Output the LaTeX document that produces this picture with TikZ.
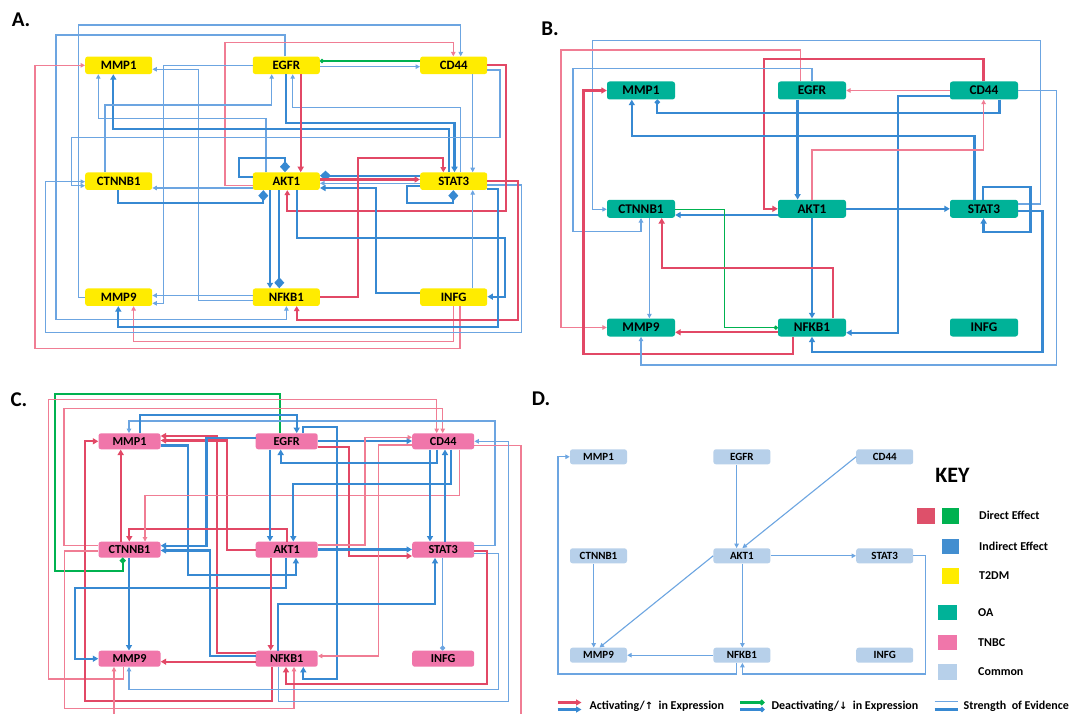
\documentclass[tikz,border=0pt]{standalone}
\usepackage{fontspec}
\setmainfont{Carlito}
\newfontfamily\dvs{DejaVu Sans}
\usetikzlibrary{arrows.meta}
\definecolor{yel}{RGB}{255,236,0}
\definecolor{teal2}{RGB}{0,178,152}
\definecolor{pink2}{RGB}{240,118,170}
\definecolor{comm}{RGB}{183,208,234}
\definecolor{redK}{RGB}{226,72,102}
\definecolor{redT}{RGB}{240,125,148}
\definecolor{bluK}{RGB}{55,137,210}
\definecolor{bluT}{RGB}{108,165,225}
\definecolor{grn}{RGB}{0,178,80}
\definecolor{keyred}{RGB}{222,80,106}
\definecolor{keyblue}{RGB}{66,142,208}
\tikzset{
 box/.style={rectangle, rounded corners=2.5pt, inner sep=0pt, text=black},
 nA/.style={box, fill=yel, minimum width=67pt, minimum height=17.5pt, font=\fontsize{12.8}{14}\selectfont\bfseries},
 nB/.style={box, fill=teal2, minimum width=68pt, minimum height=18pt, font=\fontsize{13.3}{14}\selectfont\bfseries},
 nC/.style={box, fill=pink2, minimum width=62pt, minimum height=16pt, font=\fontsize{12.2}{14}\selectfont\bfseries},
 nD/.style={box, fill=comm, minimum width=57pt, minimum height=15pt, font=\fontsize{11}{12}\selectfont\bfseries},
 bt/.style={draw=bluT, line width=1.1pt, -{Triangle[length=4.5pt,width=4.5pt]}},
 bk/.style={draw=bluK, line width=2.3pt, -{Triangle[length=5.5pt,width=6pt]}},
 rt/.style={draw=redT, line width=1.1pt, -{Triangle[length=4.5pt,width=4.5pt]}},
 rm/.style={draw=redK, line width=1.7pt, -{Triangle[length=5pt,width=5.5pt]}},
 rk/.style={draw=redK, line width=2.3pt, -{Triangle[length=5.5pt,width=6pt]}},
 gt/.style={draw=grn, line width=1.3pt, -{Circle[length=4pt]}},
 gk/.style={draw=grn, line width=2.3pt, -{Circle[length=5.5pt]}},
 dia/.style={-{Diamond[length=11pt,width=10pt]}},
 dot/.style={-{Circle[length=5pt]}},
 lab/.style={font=\fontsize{21}{24}\selectfont\bfseries, inner sep=0pt},
 keytxt/.style={font=\fontsize{12}{14}\selectfont\bfseries, anchor=west, inner sep=0pt},
}
\begin{document}
\begin{tikzpicture}[x=1pt,y=-1pt]
\useasboundingbox (0,0) rectangle (1073,714);
\fill[white] (0,0) rectangle (1073,714);

% ================= PANEL A =================
\node[lab] (lA) at (21,20) {A.};
\node[nA] (a1) at (118.7,65.3) {MMP1};
\node[nA] (a2) at (286.3,65.3) {EGFR};
\node[nA] (a3) at (453.7,65.3) {CD44};
\node[nA] (a4) at (118.7,181.2) {CTNNB1};
\node[nA] (a5) at (286.3,181.2) {AKT1};
\node[nA] (a6) at (453.7,181.2) {STAT3};
\node[nA] (a7) at (118.7,297.2) {MMP9};
\node[nA] (a8) at (286.3,297.2) {NFKB1};
\node[nA] (a9) at (453.7,297.2) {INFG};

\draw[bt] (a7.west) -| (78.3,25) -| (460.7,0 |- a3.north);
\draw[bt] (285,0 |- a2.north) -- (285,35) -| (56,319.3) -| (286.4,0 |- a8.south);
\draw[rt] (a5.west |- 0,185.2) -| (225,42.7) -| (453.3,0 |- a3.north);
\draw[rt] (460,0 |- a9.south) |- (35,348.3) |- (a1.west);
\draw[rt] (453.3,0 |- a9.south) |- (133.6,341.7) -- (133.6,0 |- a7.south);
\draw[gt] (a3.west |- 0,61) -- (a2.east |- 0,61);
\draw[bt] (a2.east |- 0,66.7) -- (a3.west |- 0,66.7);
\draw[bt] (a2.west) -| (163.3,303.3) -- (a7.east |- 0,303.3);
\draw[bt] (a8.west |- 0,300.5) -| (198.3,69.3) -- (a1.east |- 0,69.3);
\draw[bt] (a8.west |- 0,295.5) -- (a7.east |- 0,295.5);
\draw[bt] (266,0 |- a5.north) |- (98.3,118.3) -- (98.3,0 |- a1.south);
\draw[bk] (449,0 |- a6.north) |- (113.3,129.3) -- (113.3,0 |- a1.south);
\draw[bk] (286,0 |- a2.south) |- (454.5,123.3) -- (454.5,0 |- a6.north);
\draw[bt] (105,0 |- a4.north) |- (271.7,105) -- (271.7,0 |- a2.south);
\draw[bt] (a6.east |- 0,185) -| (521.5,332.7) -| (45.7,181.7) -- (a4.west |- 0,181.7);
\draw[bt] (a3.east |- 0,70) -| (500,137.3) -| (71.7,185.7) -- (a4.west |- 0,185.7);
\draw[bt] (a5.west |- 0,188) -- (a4.east |- 0,188);
\draw[bk,dia] (118.3,0 |- a4.south) |- (263.3,202.7) -- (263.3,0 |- a5.south);
\draw[bk,dia] (a5.west |- 0,177) -| (239.3,158.3) -| (285,0 |- a5.north);
\draw[bk] (270,0 |- a5.south) -- (270,0 |- a8.north);
\draw[bk,dia] (279.3,0 |- a5.south) -- (279.3,0 |- a8.north);
\draw[bt] (460.7,0 |- a6.north) |- (292.7,107.3) -- (292.7,0 |- a2.south);
\draw[bt] (472.7,0 |- a3.south) -- (472.7,0 |- a6.north);
\draw[rk] (300.7,0 |- a2.south) -- (300.7,0 |- a5.north);
\draw[rm] (a3.east |- 0,65) -| (506,210.7) -| (287.3,0 |- a5.south);
\draw[bk,dia] (a6.west |- 0,175.7) -- (a5.east |- 0,175.7);
\draw[rk] (a5.east |- 0,179.5) -- (a6.west |- 0,179.5);
\draw[bt] (a6.west |- 0,183.3) -- (a5.east |- 0,183.3);
\draw[bk] (a9.west |- 0,293.3) -| (376,188) -- (a5.east |- 0,188);
\draw[rm] (a8.east |- 0,296.7) -| (358.3,158.3) -| (443.3,0 |- a6.north);
\draw[bk,dia] (a6.west |- 0,186) -| (406.7,202.7) -| (453.3,0 |- a6.south);
\draw[rm] (a6.east |- 0,181) -| (518.3,320) -| (296.7,0 |- a8.south);
\draw[bk] (296.7,0 |- a5.south) |- (505,238.3) |- (a9.east |- 0,296.7);
\draw[bt] (472.7,0 |- a9.north) -- (472.7,0 |- a6.south);
\draw[bk] (a6.east |- 0,189) -| (498.3,326.7) -| (118.3,0 |- a7.south);

% ================= PANEL B =================
\node[lab] (lB) at (550,29) {B.};
\node[nB] (b1) at (641,90.5) {MMP1};
\node[nB] (b2) at (812,90.5) {EGFR};
\node[nB] (b3) at (984,90.5) {CD44};
\node[nB] (b4) at (641,208.8) {CTNNB1};
\node[nB] (b5) at (812,208.8) {AKT1};
\node[nB] (b6) at (984,208.8) {STAT3};
\node[nB] (b7) at (641,327.5) {MMP9};
\node[nB] (b8) at (812,327.5) {NFKB1};
\node[nB] (b9) at (984,327.5) {INFG};

\draw[bt] (b6.east |- 0,204) -| (1040.7,40.7) -| (592.7,209.3) -- (b4.west |- 0,209.3);
\draw[rt] (800.7,0 |- b2.north) |- (561,50) |- (b7.west);
\draw[rk] (983.6,0 |- b3.north) |- (764.3,59) |- (b5.west);
\draw[bt] (812,0 |- b2.north) |- (573,68.3) |- (641,231.7) -- (641,0 |- b4.south);
\draw[rk] (793.2,0 |- b8.south) |- (583.5,354.3) |- (b1.west);
\draw[rt] (b3.west) -- (b2.east);
\draw[bk] (b3.west |- 0,95.7) -| (897.9,332.7) -- (b8.east |- 0,332.7);
\draw[bk,dot] (999.5,0 |- b3.south) |- (657.3,113.3) -- (657.3,0 |- b1.south);
\draw[bk] (974.4,0 |- b6.north) |- (631.8,136) -- (631.8,0 |- b1.south);
\draw[rt] (812,0 |- b5.north) |- (983.6,150) -- (983.6,0 |- b3.south);
\draw[bk] (797.6,0 |- b2.south) -- (797.6,0 |- b5.north);
\draw[bk] (b5.east) -- (b6.west);
\draw[bk] (b5.west |- 0,215) -- (b4.east |- 0,215);
\draw[gt] (b4.east |- 0,209.3) -| (724.6,327.7) -- (b8.west |- 0,327.7);
\draw[bk] (812,0 |- b5.south) -- (812,0 |- b8.north);
\draw[rk] (833,0 |- b8.north) |- (661.7,267.7) -- (661.7,0 |- b4.south);
\draw[bt] (649.4,0 |- b4.south) -- (649.4,0 |- b7.north);
\draw[rk] (b8.west |- 0,332.3) -- (b7.east |- 0,332.3);
\draw[bk] (982.9,0 |- b6.north) |- (1030.5,186.7) |- (983.6,231.7) -- (983.6,0 |- b6.south);
\draw[bt] (b3.east) -| (1056.7,365) -| (641,0 |- b7.south);
\draw[bk] (b6.east |- 0,211) -| (1042.4,352.3) -| (812,0 |- b8.south);

% ================= PANEL C =================
\node[lab] (lC) at (19,400) {C.};
\node[nC] (c1) at (129.5,441.3) {MMP1};
\node[nC] (c2) at (286.7,441.3) {EGFR};
\node[nC] (c3) at (443.2,441.3) {CD44};
\node[nC] (c4) at (129.5,549.7) {CTNNB1};
\node[nC] (c5) at (286.7,549.7) {AKT1};
\node[nC] (c6) at (443.2,549.7) {STAT3};
\node[nC] (c7) at (129.5,658.7) {MMP9};
\node[nC] (c8) at (286.7,658.7) {NFKB1};
\node[nC] (c9) at (443.2,658.7) {INFG};

\draw[gk] (280,0 |- c2.north) |- (55,394) |- (122.7,571) -- (122.7,0 |- c4.south);
\draw[rt] (123.3,0 |- c7.south) |- (48.3,679) |- (436.7,399.3) -- (436.7,0 |- c3.north);
\draw[rt] (c4.west |- 0,545.7) -| (64,408.3) -| (442.7,0 |- c3.north);
\draw[bt] (c6.east |- 0,545.7) -| (495,421) -| (129,0 |- c1.north);
\draw[bk] (140,0 |- c1.north) |- (296.7,415) -- (296.7,0 |- c2.north);
\draw[rk] (271.7,0 |- c8.south) |- (85,700.7) |- (c1.west);
\draw[rk] (120.7,0 |- c4.north) -- (120.7,0 |- c1.south);
\draw[rk] (c8.west |- 0,652.7) -| (216.7,436) -- (c1.east |- 0,436);
\draw[rk] (c5.west) -| (226.7,440.5) -- (c1.east |- 0,440.5);
\draw[bk] (c2.west |- 0,437.7) -| (206.5,545.7) -- (c4.east |- 0,545.7);
\draw[bk] (c1.east |- 0,445.5) -| (188.3,575) -| (295.9,0 |- c5.south);
\draw[bk] (c8.west |- 0,656) -| (210,550.5) -- (c4.east |- 0,550.5);
\draw[rk] (287.2,0 |- c5.north) |- (129.3,529.3) -- (129.3,0 |- c4.north);
\draw[rt] (459.3,0 |- c3.south) |- (145,495.7) -- (145,0 |- c4.north);
\draw[bk] (129,0 |- c4.south) -- (129,0 |- c7.north);
\draw[bk] (286,0 |- c5.south) |- (75,588.3) |- (c7.west);
\draw[rk] (c8.west |- 0,661.7) -- (c7.east |- 0,661.7);
\draw[rt] (c4.west |- 0,551) -| (64.8,708.3) -| (294,0 |- c8.south);
\draw[bt] (c6.east |- 0,553.3) -| (498.3,689.3) -| (129,0 |- c7.south);
\draw[rt] (c3.east |- 0,445.7) -| (521,722) -| (114,0 |- c7.south);
\draw[bk] (303.3,0 |- c2.north) |- (337.3,426.7) |- (303.3,679) -- (303.3,0 |- c8.south);
\draw[bk] (c2.east |- 0,441) -- (c3.west |- 0,441);
\draw[rk] (c2.east |- 0,446.7) -| (349,556) -- (c6.west |- 0,556);
\draw[rt] (c5.east |- 0,545) -| (365,437.3) -- (c3.west |- 0,437.3);
\draw[rt] (c3.west |- 0,445) -| (378.3,656) -- (c8.east |- 0,656);
\draw[bk] (437,0 |- c3.south) |- (280.7,462.7) -- (280.7,0 |- c2.south);
\draw[bk] (430,0 |- c3.south) -- (430,0 |- c6.north);
\draw[bk] (445,0 |- c6.north) -- (445,0 |- c3.south);
\draw[bk] (451,0 |- c3.south) |- (293.3,484) -- (293.3,0 |- c5.north);
\draw[bk] (270,0 |- c2.south) -- (270,0 |- c5.north);
\draw[rk] (270.7,0 |- c5.south) -- (270.7,0 |- c8.north);
\draw[bk] (c5.east |- 0,549.5) -- (c6.west |- 0,549.5);
\draw[bk] (278.3,0 |- c8.north) |- (435,604) -- (435,0 |- c6.south);
\draw[bt,dot] (442.7,0 |- c6.south) -- (442.7,0 |- c9.north);
\draw[rk] (c6.east |- 0,551) -| (486.7,684) -| (286,0 |- c8.south);
\draw[bt] (278.3,0 |- c8.south) |- (508.3,701.7) |- (c3.east);

% ================= PANEL D =================
\node[lab] (lD) at (541,399) {D.};
\node[nD] (d1) at (598.5,456.8) {MMP1};
\node[nD] (d2) at (741.9,456.8) {EGFR};
\node[nD] (d3) at (884.7,456.8) {CD44};
\node[nD] (d4) at (598.5,555.8) {CTNNB1};
\node[nD] (d5) at (741.9,555.8) {AKT1};
\node[nD] (d6) at (884.7,555.8) {STAT3};
\node[nD] (d7) at (598.5,655.2) {MMP9};
\node[nD] (d8) at (741.9,655.2) {NFKB1};
\node[nD] (d9) at (884.7,655.2) {INFG};

\draw[bt] (736.6,0 |- d8.south) |- (558,674) |- (d1.west);
\draw[bt] (736.6,0 |- d2.south) -- (736.6,0 |- d5.north);
\draw[bt] (d3.west) -- (742.4,0 |- d5.north);
\draw[bt] (d5.west) -- (599.5,0 |- d7.north);
\draw[bt] (d5.east) -- (d6.west);
\draw[bt] (593.7,0 |- d4.south) -- (593.7,0 |- d7.north);
\draw[bt] (742.4,0 |- d5.south) -- (742.4,0 |- d8.north);
\draw[bt] (d8.west) -- (d7.east);
\draw[bt] (d6.east) -| (925.4,674) -| (742.4,0 |- d8.south);

% ================= KEY =================
\node[font=\fontsize{22}{24}\selectfont\bfseries, inner sep=0pt] (key) at (952.5,475) {KEY};
\fill[keyred] (916.7,508.3) rectangle (935,524);
\fill[grn] (941.7,508.3) rectangle (959.3,524);
\fill[keyblue] (941.7,539) rectangle (959.3,554.3);
\fill[yel] (941.7,568.3) rectangle (959.3,584);
\fill[teal2] (938.3,605) rectangle (956.7,620);
\fill[pink2] (938.3,635) rectangle (956.7,650);
\fill[comm] (938.3,664.3) rectangle (956.7,680);
\node[keytxt] (k1) at (979,515.7) {Direct Effect};
\node[keytxt] (k2) at (979,546.5) {Indirect Effect};
\node[keytxt] (k3) at (979,576) {T2DM};
\node[keytxt] (k4) at (978,612.5) {OA};
\node[keytxt] (k5) at (978,642.5) {TNBC};
\node[keytxt] (k6) at (978,672) {Common};

\coordinate (r1a) at (557.7,702.5); \coordinate (r1b) at (581.5,702.5);
\coordinate (r2a) at (557.7,709.5); \coordinate (r2b) at (581.5,709.5);
\draw[rk] (r1a) -- (r1b);
\draw[bk] (r2a) -- (r2b);
\node[keytxt] (l1) at (589.3,706) {Activating/{\dvs\fontsize{10}{12}\selectfont↑}\ \ in Expression};
\coordinate (g1a) at (740,702.5); \coordinate (g1b) at (764.5,702.5);
\coordinate (g2a) at (740,709.5); \coordinate (g2b) at (764.5,709.5);
\draw[gk] (g1a) -- (g1b);
\draw[bk,dot] (g2a) -- (g2b);
\node[keytxt] (l2) at (771.3,706) {Deactivating/{\dvs\fontsize{10}{12}\selectfont↓}\ \ in Expression};
\coordinate (s1a) at (934.6,701.5); \coordinate (s1b) at (958.4,701.5);
\coordinate (s2a) at (934.6,709.5); \coordinate (s2b) at (958.4,709.5);
\draw[draw=bluT, line width=1.1pt] (s1a) -- (s1b);
\draw[draw=bluK, line width=2.5pt] (s2a) -- (s2b);
\node[keytxt] (l3) at (963.5,706) {Strength\ \ of Evidence};
\end{tikzpicture}
\end{document}
